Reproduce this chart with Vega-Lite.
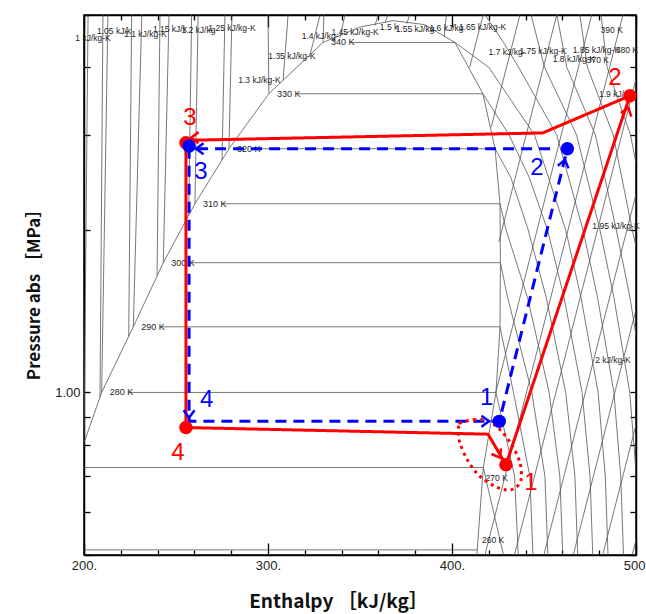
{
  "$schema": "https://vega.github.io/schema/vega-lite/v6.json",
  "width": 552,
  "height": 540,
  "autosize": {"type": "none"},
  "padding": {"left": 84, "top": 15, "right": 10, "bottom": 59},
  "background": "white",
  "config": {"view": {"stroke": "#000", "strokeWidth": 1.5}, "axis": {"grid": false}},
  "datasets": {
    "bg": [
      {"g": "dome", "h": 190, "p": 0.64}, {"g": "dome", "h": 200, "p": 0.807}, {"g": "dome", "h": 209.6, "p": 1.0}, {"g": "dome", "h": 226.8, "p": 1.323}, {"g": "dome", "h": 243.1, "p": 1.739}, {"g": "dome", "h": 260.3, "p": 2.236}, {"g": "dome", "h": 278.8, "p": 2.827}, {"g": "dome", "h": 300.5, "p": 3.574}, {"g": "dome", "h": 329.9, "p": 4.448}, {"g": "dome", "h": 350, "p": 4.75}, {"g": "dome", "h": 368, "p": 4.88}, {"g": "dome", "h": 385, "p": 4.8}, {"g": "dome", "h": 401.6, "p": 4.448}, {"g": "dome", "h": 416.8, "p": 3.574}, {"g": "dome", "h": 423.4, "p": 2.827}, {"g": "dome", "h": 426.1, "p": 2.236}, {"g": "dome", "h": 426.3, "p": 1.739}, {"g": "dome", "h": 426.1, "p": 1.323}, {"g": "dome", "h": 423.9, "p": 1.0}, {"g": "dome", "h": 417, "p": 0.726}, {"g": "dome", "h": 413.5, "p": 0.5},
      {"g": "h260", "h": 200, "p": 0.511}, {"g": "h260", "h": 413.7, "p": 0.511},
      {"g": "h270", "h": 200, "p": 0.726}, {"g": "h270", "h": 417, "p": 0.726},
      {"g": "h280", "h": 224.3, "p": 1.0}, {"g": "h280", "h": 423.9, "p": 1.0},
      {"g": "h290", "h": 241.5, "p": 1.323}, {"g": "h290", "h": 426.1, "p": 1.323},
      {"g": "h300", "h": 257.8, "p": 1.739}, {"g": "h300", "h": 426.3, "p": 1.739},
      {"g": "h310", "h": 275, "p": 2.236}, {"g": "h310", "h": 426.1, "p": 2.236},
      {"g": "h320", "h": 293.5, "p": 2.827}, {"g": "h320", "h": 423.4, "p": 2.827},
      {"g": "h330", "h": 315.2, "p": 3.574}, {"g": "h330", "h": 416.8, "p": 3.574},
      {"g": "h340", "h": 344.6, "p": 4.448}, {"g": "h340", "h": 401.6, "p": 4.448},
      {"g": "v270", "h": 417, "p": 0.726}, {"g": "v270", "h": 428, "p": 0.5},
      {"g": "v280", "h": 423.9, "p": 1.0}, {"g": "v280", "h": 434, "p": 0.7}, {"g": "v280", "h": 436, "p": 0.5},
      {"g": "v290", "h": 426.1, "p": 1.323}, {"g": "v290", "h": 433.4, "p": 1.0}, {"g": "v290", "h": 442.3, "p": 0.7}, {"g": "v290", "h": 444, "p": 0.5},
      {"g": "v300", "h": 426.3, "p": 1.739}, {"g": "v300", "h": 430.2, "p": 1.5}, {"g": "v300", "h": 443.4, "p": 1.0}, {"g": "v300", "h": 450.5, "p": 0.7}, {"g": "v300", "h": 452.1, "p": 0.5},
      {"g": "v310", "h": 426.1, "p": 2.236}, {"g": "v310", "h": 429.4, "p": 2.0}, {"g": "v310", "h": 441, "p": 1.5}, {"g": "v310", "h": 452.8, "p": 1.0}, {"g": "v310", "h": 458.6, "p": 0.7}, {"g": "v310", "h": 460.2, "p": 0.5},
      {"g": "v320", "h": 423.4, "p": 2.827}, {"g": "v320", "h": 432, "p": 2.5}, {"g": "v320", "h": 441.4, "p": 2.0}, {"g": "v320", "h": 451.2, "p": 1.5}, {"g": "v320", "h": 461.8, "p": 1.0}, {"g": "v320", "h": 466.8, "p": 0.7}, {"g": "v320", "h": 468.3, "p": 0.5},
      {"g": "v330", "h": 416.8, "p": 3.574}, {"g": "v330", "h": 431, "p": 3.0}, {"g": "v330", "h": 442, "p": 2.5}, {"g": "v330", "h": 451.9, "p": 2.0}, {"g": "v330", "h": 460.9, "p": 1.5}, {"g": "v330", "h": 470.7, "p": 1.0}, {"g": "v330", "h": 475, "p": 0.7}, {"g": "v330", "h": 476.5, "p": 0.5},
      {"g": "v340", "h": 401.6, "p": 4.448}, {"g": "v340", "h": 420, "p": 4.0}, {"g": "v340", "h": 444.8, "p": 3.0}, {"g": "v340", "h": 461.8, "p": 2.0}, {"g": "v340", "h": 470.1, "p": 1.5}, {"g": "v340", "h": 479.4, "p": 1.0}, {"g": "v340", "h": 483.3, "p": 0.7}, {"g": "v340", "h": 484.8, "p": 0.5},
      {"g": "v350", "h": 418, "p": 5.0}, {"g": "v350", "h": 428, "p": 4.45}, {"g": "v350", "h": 436.2, "p": 4.0}, {"g": "v350", "h": 456.9, "p": 3.0}, {"g": "v350", "h": 471.2, "p": 2.0}, {"g": "v350", "h": 479.1, "p": 1.5}, {"g": "v350", "h": 488, "p": 1.0}, {"g": "v350", "h": 491.7, "p": 0.7}, {"g": "v350", "h": 493.2, "p": 0.5},
      {"g": "v360", "h": 443, "p": 5.0}, {"g": "v360", "h": 450.3, "p": 4.0}, {"g": "v360", "h": 467.7, "p": 3.0}, {"g": "v360", "h": 480.4, "p": 2.0}, {"g": "v360", "h": 488, "p": 1.5}, {"g": "v360", "h": 496.6, "p": 1.0}, {"g": "v360", "h": 500.2, "p": 0.7}, {"g": "v360", "h": 501.7, "p": 0.5},
      {"g": "v370", "h": 457, "p": 5.0}, {"g": "v370", "h": 462.4, "p": 4.0}, {"g": "v370", "h": 477.9, "p": 3.0}, {"g": "v370", "h": 489.3, "p": 2.0}, {"g": "v370", "h": 496.7, "p": 1.5}, {"g": "v370", "h": 505, "p": 1.0},
      {"g": "v380", "h": 469.5, "p": 5.0}, {"g": "v380", "h": 473.6, "p": 4.0}, {"g": "v380", "h": 487.6, "p": 3.0}, {"g": "v380", "h": 498, "p": 2.0}, {"g": "v380", "h": 506, "p": 1.5},
      {"g": "v390", "h": 481, "p": 5.0}, {"g": "v390", "h": 484.3, "p": 4.0}, {"g": "v390", "h": 497, "p": 3.0}, {"g": "v390", "h": 507, "p": 2.0},
      {"g": "s155", "h": 375.5, "p": 4.82}, {"g": "s155", "h": 376.9, "p": 5.0},
      {"g": "s160", "h": 395.8, "p": 4.55}, {"g": "s160", "h": 396.9, "p": 5.0},
      {"g": "s165", "h": 409.6, "p": 4.0}, {"g": "s165", "h": 416.9, "p": 5.0},
      {"g": "s170", "h": 421.3, "p": 3.1}, {"g": "s170", "h": 436.9, "p": 5.0},
      {"g": "s175", "h": 425.5, "p": 1.9}, {"g": "s175", "h": 456.9, "p": 5.0},
      {"g": "s180", "h": 423.8, "p": 1.0}, {"g": "s180", "h": 475.9, "p": 5.0},
      {"g": "s185", "h": 417.9, "p": 0.5}, {"g": "s185", "h": 492.9, "p": 5.0},
      {"g": "s190", "h": 433.9, "p": 0.5}, {"g": "s190", "h": 508.9, "p": 5.0},
      {"g": "s195", "h": 449.9, "p": 0.5}, {"g": "s195", "h": 524.9, "p": 5.0},
      {"g": "s200", "h": 465.9, "p": 0.5}, {"g": "s200", "h": 540.9, "p": 5.0},
      {"g": "s205", "h": 481.9, "p": 0.5}, {"g": "s205", "h": 556.9, "p": 5.0},
      {"g": "s210", "h": 497.9, "p": 0.5}, {"g": "s210", "h": 572.9, "p": 5.0},
      {"g": "s100", "h": 200, "p": 0.807}, {"g": "s100", "h": 202.2, "p": 5.0},
      {"g": "s105", "h": 208.7, "p": 0.98}, {"g": "s105", "h": 210.3, "p": 5.0},
      {"g": "s110", "h": 224.3, "p": 1.272}, {"g": "s110", "h": 225.9, "p": 5.0},
      {"g": "s115", "h": 239.7, "p": 1.644}, {"g": "s115", "h": 241.3, "p": 5.0},
      {"g": "s120", "h": 256.9, "p": 2.127}, {"g": "s120", "h": 258.5, "p": 5.0},
      {"g": "s125", "h": 275, "p": 2.692}, {"g": "s125", "h": 276.6, "p": 5.0},
      {"g": "s130", "h": 308.2, "p": 3.78}, {"g": "s130", "h": 310.9, "p": 5.0},
      {"g": "s135", "h": 322.8, "p": 4.215}, {"g": "s135", "h": 328.3, "p": 5.0},
      {"g": "s140", "h": 339.1, "p": 4.54}, {"g": "s140", "h": 341.8, "p": 5.0},
      {"g": "s145", "h": 358.2, "p": 4.78}, {"g": "s145", "h": 359.8, "p": 5.0},
      {"g": "s150", "h": 363.6, "p": 4.84}, {"g": "s150", "h": 365.2, "p": 5.0},
      {"g": "t280", "h": 209.6, "p": 1.0}, {"g": "t280", "h": 213, "p": 5.0},
      {"g": "t290", "h": 226.8, "p": 1.323}, {"g": "t290", "h": 231.4, "p": 5.0},
      {"g": "t300", "h": 243.1, "p": 1.739}, {"g": "t300", "h": 246.2, "p": 5.0},
      {"g": "t310", "h": 260.3, "p": 2.236}, {"g": "t310", "h": 262, "p": 5.0},
      {"g": "t320", "h": 278.8, "p": 2.827}, {"g": "t320", "h": 280.4, "p": 5.0},
      {"g": "t330", "h": 300.5, "p": 3.574}, {"g": "t330", "h": 300, "p": 5.0},
      {"g": "t340", "h": 329.9, "p": 4.448}, {"g": "t340", "h": 330.4, "p": 5.0}
    ],
    "isoLab": [
      {"t": "280 K", "h": 214, "p": 1.0}, {"t": "290 K", "h": 231.1, "p": 1.323}, {"t": "300 K", "h": 247.4, "p": 1.739}, {"t": "310 K", "h": 264.7, "p": 2.236}, {"t": "320 K", "h": 283.2, "p": 2.827}, {"t": "330 K", "h": 304.9, "p": 3.574}, {"t": "340 K", "h": 334.2, "p": 4.448}
    ],
    "cLab": [
      {"t": "270 K", "h": 424.3, "p": 0.695}, {"t": "260 K", "h": 422.3, "p": 0.533},
      {"t": "370 K", "h": 479.3, "p": 4.131}, {"t": "380 K", "h": 495, "p": 4.3}, {"t": "390 K", "h": 486.8, "p": 4.695},
      {"t": "1 kJ/kg-K", "h": 204.9, "p": 4.539}, {"t": "1.05 kJ/k", "h": 216.3, "p": 4.67}, {"t": "1.1 kJ/kg-K", "h": 233.4, "p": 4.617}, {"t": "1.15 kJ/k", "h": 246.7, "p": 4.715}, {"t": "1.2 kJ/kg", "h": 262.2, "p": 4.695}, {"t": "1.25 kJ/kg-K", "h": 280.4, "p": 4.735},
      {"t": "1.3 kJ/kg-K", "h": 295.4, "p": 3.794}, {"t": "1.35 kJ/kg-K", "h": 313, "p": 4.2}, {"t": "1.4 kJ/kg-", "h": 328.3, "p": 4.566}, {"t": "1.45 kJ/kg-K", "h": 347.3, "p": 4.66}, {"t": "1.5 k", "h": 365.8, "p": 4.76}, {"t": "1.55 kJ/kg", "h": 379.9, "p": 4.715}, {"t": "1.6 kJ/kg", "h": 397, "p": 4.735}, {"t": "1.65 kJ/kg-K", "h": 416.6, "p": 4.76},
      {"t": "1.7 kJ/kg-", "h": 429.9, "p": 4.27}, {"t": "1.75 kJ/kg-K", "h": 449.5, "p": 4.29}, {"t": "1.8 kJ/kg-K", "h": 466.3, "p": 4.15}, {"t": "1.85 kJ/kg-K", "h": 478.5, "p": 4.3}, {"t": "1.9 kJ/", "h": 486.7, "p": 3.57}, {"t": "1.95 kJ/kg-K", "h": 489.1, "p": 2.035}, {"t": "2 kJ/kg-K", "h": 487.5, "p": 1.15}
    ],
    "cycle": [
      {"cycle": "A", "h": 255.4, "p": 2.93}, {"cycle": "A", "h": 255.4, "p": 0.861}, {"cycle": "A", "h": 419.6, "p": 0.837}, {"cycle": "A", "h": 429.3, "p": 0.735}, {"cycle": "A", "h": 496.7, "p": 3.544}, {"cycle": "A", "h": 449.3, "p": 3.024}, {"cycle": "A", "h": 255.4, "p": 2.93},
      {"cycle": "B", "h": 453.3, "p": 2.827}, {"cycle": "B", "h": 257.1, "p": 2.827}, {"cycle": "B", "h": 257.1, "p": 0.884}, {"cycle": "B", "h": 425.7, "p": 0.884}, {"cycle": "B", "h": 462.7, "p": 2.827}
    ],
    "ellipse": [
      {"h": 404.3, "p": 0.878}, {"h": 411.6, "p": 0.89}, {"h": 418.9, "p": 0.887}, {"h": 426.1, "p": 0.853}, {"h": 432.4, "p": 0.8}, {"h": 437, "p": 0.74}, {"h": 437.5, "p": 0.689}, {"h": 434.2, "p": 0.665}, {"h": 429.7, "p": 0.66}, {"h": 423.4, "p": 0.67}, {"h": 415.2, "p": 0.699}, {"h": 408.9, "p": 0.745}, {"h": 404.3, "p": 0.806}, {"h": 403.4, "p": 0.853}, {"h": 404.3, "p": 0.878}
    ],
    "pts": [
      {"cycle": "A", "h": 429.3, "p": 0.735}, {"cycle": "A", "h": 496.7, "p": 3.544}, {"cycle": "A", "h": 255.4, "p": 2.9}, {"cycle": "A", "h": 255.4, "p": 0.861},
      {"cycle": "B", "h": 425.7, "p": 0.884}, {"cycle": "B", "h": 462.7, "p": 2.827}, {"cycle": "B", "h": 257.1, "p": 2.86}
    ],
    "arrows": [
      {"cycle": "A", "h": 258.2, "p": 2.964, "dir": 180}, {"cycle": "A", "h": 495.9, "p": 3.367, "dir": -71.4}, {"cycle": "A", "h": 426.1, "p": 0.757, "dir": 59.9},
      {"cycle": "B", "h": 461.4, "p": 2.697, "dir": -76}, {"cycle": "B", "h": 260.9, "p": 2.827, "dir": 180}, {"cycle": "B", "h": 257.1, "p": 0.898, "dir": 90}, {"cycle": "B", "h": 420.1, "p": 0.884, "dir": 0}
    ],
    "nums": [
      {"cycle": "A", "t": "1", "h": 442.9, "p": 0.681}, {"cycle": "A", "t": "2", "h": 488.6, "p": 3.826}, {"cycle": "A", "t": "3", "h": 257.6, "p": 3.227}, {"cycle": "A", "t": "4", "h": 251.1, "p": 0.773},
      {"cycle": "B", "t": "1", "h": 418.8, "p": 0.978}, {"cycle": "B", "t": "2", "h": 446.2, "p": 2.607}, {"cycle": "B", "t": "3", "h": 263.6, "p": 2.563}, {"cycle": "B", "t": "4", "h": 266.7, "p": 0.969}
    ]
  },
  "layer": [
    {
      "data": {"name": "bg"},
      "mark": {"type": "line", "color": "#555", "strokeWidth": 0.8, "clip": true},
      "encoding": {
        "x": {"field": "h", "type": "quantitative", "scale": {"domain": [200, 500], "nice": false, "zero": false},
          "axis": {"orient": "bottom", "values": [200, 220, 240, 260, 280, 300, 320, 340, 360, 380, 400, 420, 440, 460, 480, 500],
            "labelExpr": "datum.value % 100 === 0 ? datum.value + '.' : ''", "labelFont": "Liberation Sans", "labelFontSize": 13, "labelColor": "#222",
            "labelPadding": 16, "labelOverlap": false, "labelFlush": false,
            "tickSize": {"condition": {"test": "datum.value % 100 === 0", "value": -12}, "value": -5},
            "tickColor": "#000", "tickWidth": 1.3, "domainColor": "#000", "domainWidth": 1.5,
            "title": "Enthalpy ［kJ/kg］", "titleFont": "Noto Sans CJK JP", "titleFontSize": 19, "titleFontWeight": "bold", "titleColor": "#111",
            "titleX": 254, "titleY": 46, "titleAlign": "center", "titleBaseline": "middle"}},
        "y": {"field": "p", "type": "quantitative", "scale": {"type": "log", "domain": [0.5, 5], "nice": false},
          "axis": {"orient": "left", "values": [0.5, 0.6, 0.7, 0.8, 0.9, 1, 2, 3, 4, 5],
            "labelExpr": "datum.value === 1 ? '1.00' : ''", "labelFont": "Liberation Sans", "labelFontSize": 13, "labelColor": "#222",
            "labelPadding": 10, "labelOverlap": false, "tickSize": -6, "tickColor": "#000", "tickWidth": 1.3, "domainColor": "#000", "domainWidth": 1.5,
            "title": "Pressure abs ［MPa］", "titleFont": "Noto Sans CJK JP", "titleFontSize": 17, "titleFontWeight": "bold", "titleColor": "#111",
            "titleAngle": 270, "titleX": -50, "titleY": 275, "titleAlign": "center", "titleBaseline": "middle"}},
        "detail": {"field": "g"},
        "order": {"value": null}
      }
    },
    {
      "data": {"name": "isoLab"},
      "mark": {"type": "text", "align": "left", "baseline": "middle", "font": "Liberation Sans Narrow, Liberation Sans", "fontSize": 9, "color": "#222"},
      "encoding": {"x": {"field": "h", "type": "quantitative", "axis": null}, "y": {"field": "p", "type": "quantitative", "axis": null}, "text": {"field": "t"}}
    },
    {
      "data": {"name": "cLab"},
      "mark": {"type": "text", "align": "center", "baseline": "middle", "font": "Liberation Sans Narrow, Liberation Sans", "fontSize": 8.5, "color": "#222"},
      "encoding": {"x": {"field": "h", "type": "quantitative", "axis": null}, "y": {"field": "p", "type": "quantitative", "axis": null}, "text": {"field": "t"}}
    },
    {
      "data": {"name": "cycle"},
      "mark": {"type": "line", "strokeWidth": 3, "strokeJoin": "miter"},
      "encoding": {
        "x": {"field": "h", "type": "quantitative", "axis": null},
        "y": {"field": "p", "type": "quantitative", "axis": null},
        "color": {"field": "cycle", "type": "nominal", "scale": {"domain": ["A", "B"], "range": ["#ff0000", "#0000ff"]}, "legend": null},
        "strokeDash": {"field": "cycle", "type": "nominal", "scale": {"domain": ["A", "B"], "range": [[1, 0], [11, 7]]}, "legend": null},
        "order": {"value": null}
      }
    },
    {
      "data": {"name": "ellipse"},
      "mark": {"type": "line", "color": "#ff0000", "strokeWidth": 3, "strokeDash": [3, 4], "interpolate": "cardinal-closed"},
      "encoding": {"x": {"field": "h", "type": "quantitative", "axis": null}, "y": {"field": "p", "type": "quantitative", "axis": null}, "order": {"value": null}}
    },
    {
      "data": {"name": "arrows"},
      "mark": {"type": "point", "shape": "M-1.5,-1.1L0,0L-1.5,1.1", "filled": false, "strokeWidth": 2.5, "size": 100, "opacity": 1},
      "encoding": {
        "x": {"field": "h", "type": "quantitative", "axis": null},
        "y": {"field": "p", "type": "quantitative", "axis": null},
        "angle": {"field": "dir", "type": "quantitative", "scale": null},
        "color": {"field": "cycle", "type": "nominal", "legend": null}
      }
    },
    {
      "data": {"name": "nums"},
      "mark": {"type": "text", "align": "center", "baseline": "middle", "font": "Liberation Sans", "fontSize": 24},
      "encoding": {
        "x": {"field": "h", "type": "quantitative", "axis": null},
        "y": {"field": "p", "type": "quantitative", "axis": null},
        "text": {"field": "t"},
        "color": {"field": "cycle", "type": "nominal", "legend": null}
      }
    },
    {
      "data": {"name": "pts"},
      "mark": {"type": "circle", "size": 180, "opacity": 1},
      "encoding": {
        "x": {"field": "h", "type": "quantitative",
          "axis": {"orient": "top", "values": [200, 220, 240, 260, 280, 300, 320, 340, 360, 380, 400, 420, 440, 460, 480, 500], "labels": false, "title": null,
            "tickSize": {"condition": {"test": "datum.value % 100 === 0", "value": -12}, "value": -5}, "tickColor": "#000", "tickWidth": 1.3, "domainColor": "#000", "domainWidth": 1.5}},
        "y": {"field": "p", "type": "quantitative",
          "axis": {"orient": "right", "values": [0.5, 0.6, 0.7, 0.8, 0.9, 1, 2, 3, 4, 5], "labels": false, "title": null, "tickSize": -6, "tickColor": "#000", "tickWidth": 1.3, "domainColor": "#000", "domainWidth": 1.5}},
        "color": {"field": "cycle", "type": "nominal", "legend": null}
      }
    }
  ],
  "resolve": {"axis": {"x": "independent", "y": "independent"}}
}
